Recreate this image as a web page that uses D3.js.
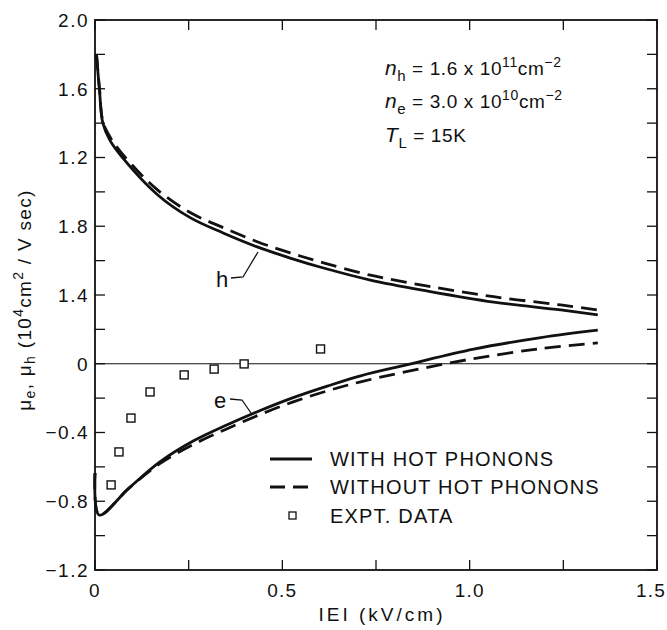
<!DOCTYPE html>
<html><head><meta charset="utf-8">
<script src="https://cdn.jsdelivr.net/npm/d3@7"></script>
<style>body{margin:0;background:#fff}svg{display:block}text{font-family:"Liberation Sans",Arial,sans-serif;fill:#111}</style>
</head><body><svg id="c" width="667" height="630"></svg>
<script>
// ---- data ----
const hWithX    = [0.004,0.012,0.021,0.04,0.075,0.166,0.254,0.342,0.433,0.521,0.61,0.735,0.888,1.064,1.243,1.342];
const hWithY    = [1.80,1.59,1.40,1.30,1.195,0.985,0.85,0.761,0.68,0.615,0.557,0.487,0.423,0.359,0.313,0.284];
const hWithoutX = [0.004,0.012,0.021,0.04,0.075,0.166,0.254,0.342,0.433,0.521,0.61,0.735,0.888,1.064,1.243,1.342];
const hWithoutY = [1.80,1.60,1.41,1.32,1.215,1.013,0.88,0.792,0.71,0.645,0.587,0.515,0.452,0.39,0.342,0.313];
const eWithX    = [0,0.011,0.09,0.174,0.262,0.353,0.441,0.529,0.62,0.709,0.834,1.011,1.19,1.342];
const eWithY    = [-0.636,-0.88,-0.725,-0.57,-0.45,-0.355,-0.272,-0.197,-0.13,-0.07,-0.005,0.085,0.152,0.195];
const eWithoutX = [0,0.011,0.09,0.174,0.262,0.353,0.441,0.529,0.62,0.709,0.834,1.011,1.19,1.342];
const eWithoutY = [-0.636,-0.88,-0.725,-0.58,-0.47,-0.378,-0.295,-0.222,-0.158,-0.105,-0.045,0.03,0.088,0.121];
const exptX     = [0.043,0.064,0.096,0.147,0.238,0.318,0.398,0.602];
const exptY     = [-0.705,-0.513,-0.316,-0.164,-0.065,-0.031,-0.001,0.086];
const xTickVals   = [0,0.5,1.0,1.5];
const xTickLabels = ["0","0.5","1.0","1.5"];
const yTickVals   = [-1.2,-0.8,-0.4,0,0.4,0.8,1.2,1.6,2.0];
const yTickLabels = ["\u22121.2","\u22120.8","\u22120.4","0","1.4","1.8","1.2","1.6","2.0"];
const legendLabels = ["WITH HOT PHONONS","WITHOUT HOT PHONONS","EXPT. DATA"];

const svg = d3.select("#c");
const x = d3.scaleLinear().domain([0,1.5]).range([95,657]);
const y = d3.scaleLinear().domain([-1.2,2.0]).range([570,20]);
const k = "#111";

// frame
svg.append("rect").attr("x",x(0)).attr("y",y(2.0)).attr("width",x(1.5)-x(0)).attr("height",y(-1.2)-y(2.0))
  .attr("fill","none").attr("stroke",k).attr("stroke-width",1.8);
// zero line
svg.append("line").attr("x1",x(0)).attr("x2",x(1.5)).attr("y1",y(0)).attr("y2",y(0)).attr("stroke",k).attr("stroke-width",1);

// ticks (inward)
const xt = d3.range(0,1.5001,0.25), yt = d3.range(-1.2,2.0001,0.2);
const tl = 10;
svg.append("g").selectAll("line").data(xt).join("line")
  .attr("x1",d=>x(d)).attr("x2",d=>x(d)).attr("y1",y(-1.2)).attr("y2",y(-1.2)-tl).attr("stroke",k).attr("stroke-width",1.3);
svg.append("g").selectAll("line").data(xt).join("line")
  .attr("x1",d=>x(d)).attr("x2",d=>x(d)).attr("y1",y(2.0)).attr("y2",y(2.0)+tl).attr("stroke",k).attr("stroke-width",1.3);
svg.append("g").selectAll("line").data(yt).join("line")
  .attr("x1",x(0)).attr("x2",x(0)+tl).attr("y1",d=>y(d)).attr("y2",d=>y(d)).attr("stroke",k).attr("stroke-width",1.3);
svg.append("g").selectAll("line").data(yt).join("line")
  .attr("x1",x(1.5)).attr("x2",x(1.5)-tl).attr("y1",d=>y(d)).attr("y2",d=>y(d)).attr("stroke",k).attr("stroke-width",1.3);

// tick labels
svg.append("g").selectAll("text").data(xTickVals).join("text")
  .attr("x",d=>d===1.5?666:x(d)).attr("y",597).attr("text-anchor",d=>d===1.5?"end":"middle")
  .attr("font-size",19).attr("letter-spacing",1.2).text((d,i)=>xTickLabels[i]);
svg.append("g").selectAll("text").data(yTickVals).join("text")
  .attr("x",89).attr("y",d=>y(d)).attr("dy","0.36em").attr("text-anchor","end")
  .attr("font-size",19).attr("letter-spacing",1.5).text((d,i)=>yTickLabels[i]);

// axis titles
svg.append("text").attr("x",382).attr("y",621).attr("text-anchor","middle").attr("font-size",19).attr("letter-spacing",3).text("IEI (kV/cm)");
const yt2 = svg.append("text").attr("transform","translate(31,300) rotate(-90)").attr("text-anchor","middle")
  .attr("font-size",19).attr("letter-spacing",1.3);
yt2.append("tspan").text("\u03bc");
yt2.append("tspan").attr("font-size",14).attr("dy",4).text("e");
yt2.append("tspan").attr("dy",-4).text(", \u03bc");
yt2.append("tspan").attr("font-size",14).attr("dy",4).text("h");
yt2.append("tspan").attr("dy",-4).text("  (10");
yt2.append("tspan").attr("font-size",14).attr("dy",-8).text("4");
yt2.append("tspan").attr("dy",8).text("cm");
yt2.append("tspan").attr("font-size",14).attr("dy",-8).text("2");
yt2.append("tspan").attr("dy",8).text(" / V sec)");

// curves
const line = d3.line().x(d=>x(d[0])).y(d=>y(d[1])).curve(d3.curveCatmullRom.alpha(0.5));
const zip = (a,b)=>a.map((v,i)=>[v,b[i]]);
const curves = [
  [zip(hWithX,hWithY),null],[zip(hWithoutX,hWithoutY),"16,8"],
  [zip(eWithX,eWithY),null],[zip(eWithoutX,eWithoutY),"16,8"]
];
curves.forEach(([d,dash])=>{
  svg.append("path").attr("d",line(d)).attr("fill","none").attr("stroke",k).attr("stroke-width",2.8)
    .attr("stroke-dasharray",dash);
});

// expt data squares
const sq = 8;
svg.append("g").selectAll("rect").data(zip(exptX,exptY)).join("rect")
  .attr("x",d=>x(d[0])-sq/2).attr("y",d=>y(d[1])-sq/2).attr("width",sq).attr("height",sq)
  .attr("fill","#fff").attr("stroke",k).attr("stroke-width",1.4);

// curve labels with leaders
svg.append("text").attr("x",222).attr("y",287).attr("text-anchor","middle").attr("font-size",22).text("h");
svg.append("path").attr("d","M231,278 L243,277 L258,252").attr("fill","none").attr("stroke",k).attr("stroke-width",1.3);
svg.append("text").attr("x",220).attr("y",408).attr("text-anchor","middle").attr("font-size",22).text("e");
svg.append("path").attr("d","M230,399 L242,400 L251,413").attr("fill","none").attr("stroke",k).attr("stroke-width",1.3);

// annotation
function anno(yb, name, sub, rest, sup, tail, sup2){
  const t = svg.append("text").attr("x",385).attr("y",yb).attr("font-size",19).attr("letter-spacing",0.6);
  t.append("tspan").attr("font-style","italic").attr("font-size",21).text(name);
  t.append("tspan").attr("font-size",15).attr("dy",6).text(sub);
  t.append("tspan").attr("dy",-6).text(rest);
  if(sup){
    t.append("tspan").attr("font-size",14).attr("dy",-8).text(sup);
    t.append("tspan").attr("dy",8).text(tail);
    t.append("tspan").attr("font-size",14).attr("dy",-8).text(sup2);
  }
}
anno(75,"n","h"," = 1.6 x 10","11","cm","\u22122");
anno(108,"n","e"," = 3.0 x 10","10","cm","\u22122");
anno(142,"T","L"," = 15K");

// legend
const lg = svg.append("g");
lg.append("line").attr("x1",270).attr("x2",312).attr("y1",459).attr("y2",459).attr("stroke",k).attr("stroke-width",2.8);
lg.append("line").attr("x1",270).attr("x2",312).attr("y1",487).attr("y2",487).attr("stroke",k).attr("stroke-width",2.8).attr("stroke-dasharray","15,8");
lg.append("rect").attr("x",289).attr("y",512).attr("width",7).attr("height",7).attr("fill","#fff").attr("stroke",k).attr("stroke-width",1.3);
[466,494,523].forEach((yy,i)=>{
  lg.append("text").attr("x",330).attr("y",yy).attr("font-size",20).attr("letter-spacing",1.2).text(legendLabels[i]);
});
</script></body></html>
